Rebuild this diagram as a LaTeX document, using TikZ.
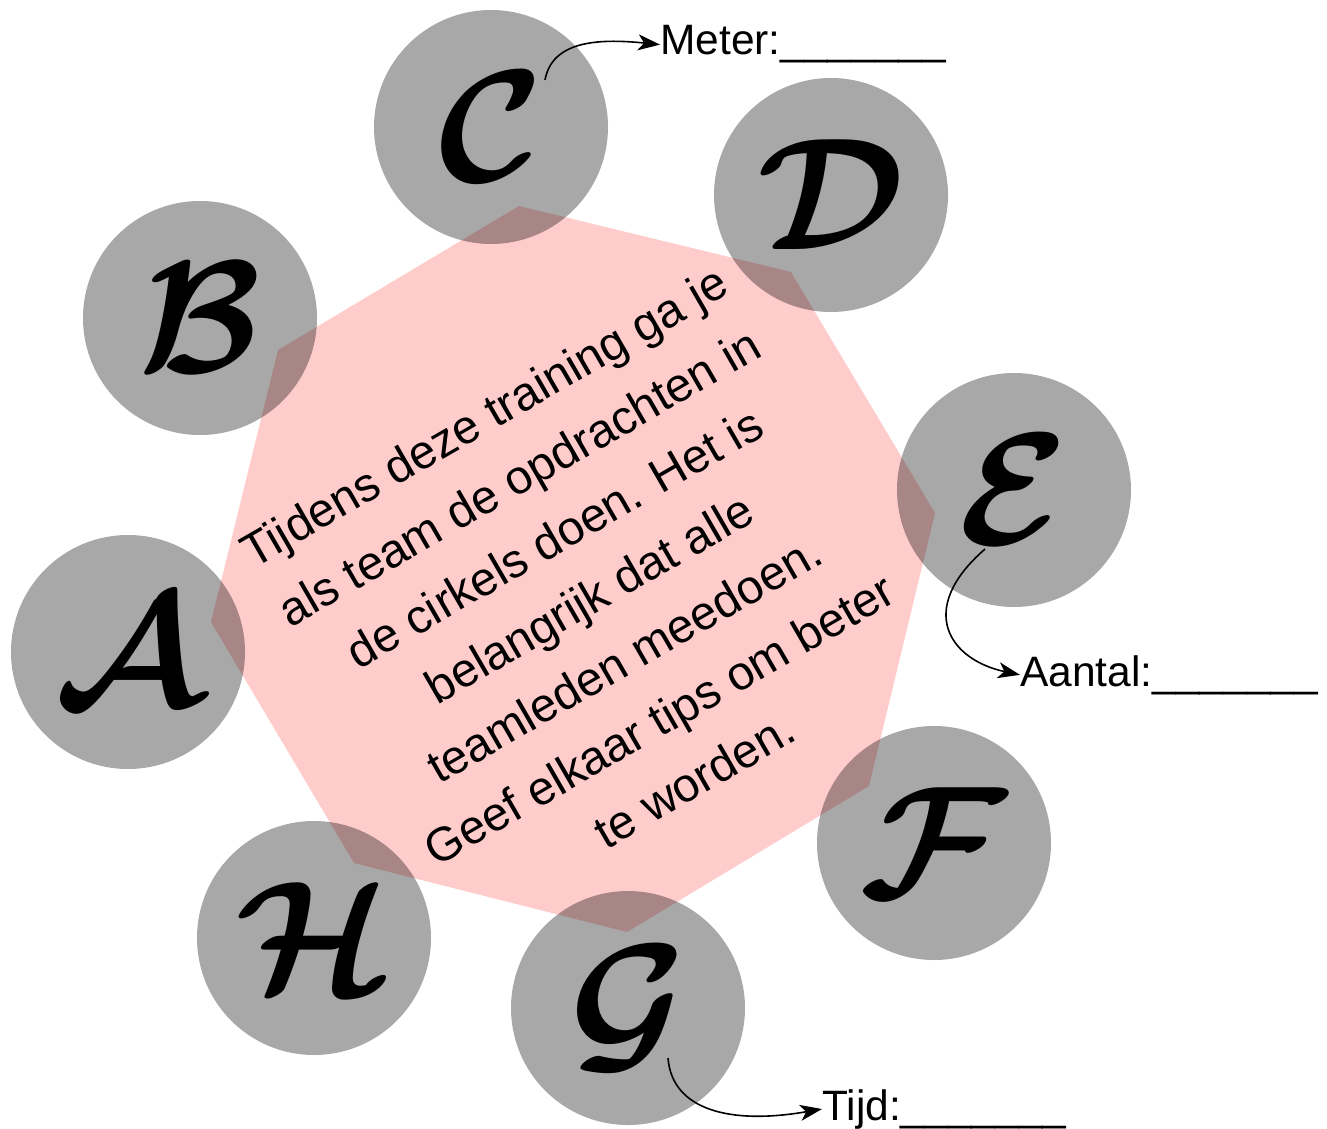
\documentclass[tikz,border=0pt]{standalone}
\usepackage{bm}
\usepackage{graphicx}
\usepackage{fontspec}
\setmainfont{Liberation Sans}
\usetikzlibrary{arrows.meta}
\definecolor{octpink}{RGB}{255,204,204}
\newcommand{\biglet}[1]{\scalebox{16}{$\bm{\mathcal{#1}}$}}
\tikzset{
  disc/.style={circle, minimum size=234pt, inner sep=0pt, fill=black, fill opacity=0.34, text opacity=1},
  lbl/.style={anchor=base west, inner sep=0pt, font=\fontsize{42.5}{50}\selectfont},
  conn/.style={line width=1.6pt, -{Stealth[length=22pt,width=16pt,inset=6pt]}}
}
\begin{document}
\begin{tikzpicture}[x=1pt,y=-1pt]
\useasboundingbox (0,0) rectangle (1327,1129);
\fill[octpink] (519,206) -- (791,272) -- (935,513) -- (869,786) -- (627,932) -- (354,863) -- (211,622) -- (278,350) -- cycle;
\node[rotate=30, align=center, font=\fontsize{47.5}{70}\selectfont] (txt) at (589,598)
 {Tijdens deze training ga je\\als team de opdrachten in\\de cirkels doen. Het is\\belangrijk dat alle\\teamleden meedoen.\\Geef elkaar tips om beter\\te worden.};
\node[disc] (C) at (491,127) {\biglet{C}};
\node[disc] (D) at (831,195) {\biglet{D}};
\node[disc] (E) at (1014,490) {\biglet{E}};
\node[disc] (F) at (934,843) {\biglet{F}};
\node[disc] (G) at (628,1008) {\biglet{G}};
\node[disc] (H) at (314,938) {\biglet{H}};
\node[disc] (A) at (128,652) {\biglet{A}};
\node[disc] (B) at (200,318) {\biglet{B}};
\node[lbl] (m) at (660,55) {Meter:\_\_\_\_\_\_\_};
\node[lbl] (a) at (1020,686) {Aantal:\_\_\_\_\_\_\_};
\node[lbl] (t) at (822,1120) {Tijd:\_\_\_\_\_\_\_};
\coordinate (cs) at (545,80);
\coordinate (es) at (985,549);
\coordinate (gs) at (668,1058);
\draw[conn] (cs) .. controls (552,42) and (595,38) .. (m.west);
\draw[conn] (es) .. controls (915,610) and (950,660) .. (a.west);
\draw[conn] (gs) .. controls (672,1110) and (730,1125) .. (t.west);
\end{tikzpicture}
\end{document}
